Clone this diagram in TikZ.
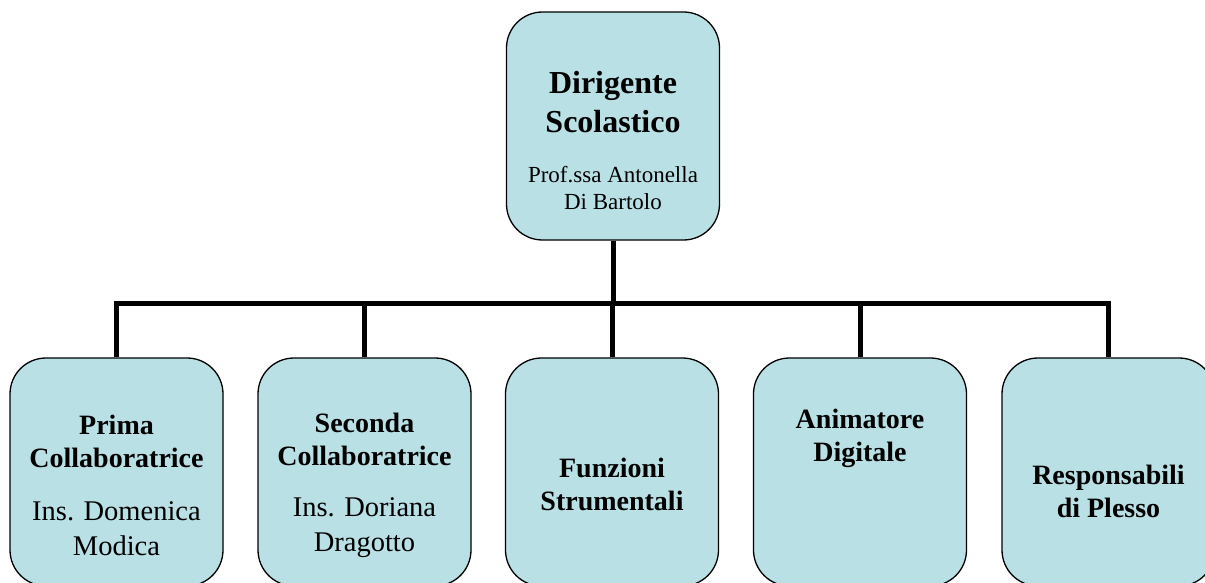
\documentclass[tikz,border=0pt]{standalone}
\usepackage{fontspec}
\setmainfont{Liberation Serif}
\usetikzlibrary{backgrounds}
\definecolor{boxfill}{RGB}{185,224,228}
\begin{document}
\begin{tikzpicture}[x=1pt,y=-1pt,
  orgbox/.style={draw=black, line width=1.3pt, fill=boxfill, rounded corners=36pt, minimum width=213pt, minimum height=228pt, inner sep=0pt},
  link/.style={line width=5pt},
  toptitle/.style={font=\fontsize{32}{39}\selectfont\bfseries, align=center, inner sep=0pt},
  topname/.style={font=\fontsize{23}{27}\selectfont, align=center, inner sep=0pt},
  ttl/.style={font=\fontsize{28}{33}\selectfont\bfseries, align=center, inner sep=0pt},
  nm/.style={font=\fontsize{28.5}{35}\selectfont, align=center, inner sep=0pt}]
\useasboundingbox (0,0) rectangle (1205,583);
\clip (0,0) rectangle (1205,583);
% boxes
\path (613,126) node[orgbox] (top) {};
\path (116.5,472) node[orgbox] (b1) {};
\path (364.5,472) node[orgbox] (b2) {};
\path (612,472) node[orgbox] (b3) {};
\path (860,472) node[orgbox] (b4) {};
\path (1108.5,472) node[orgbox] (b5) {};
% junction on the bar
\coordinate (j) at (613,303);
% connectors
\begin{scope}[on background layer]
\draw[link] (top.south) -- (j);
\draw[link] (b1.north) |- (j) -| (b5.north);
\draw[link] (b2.north) -- (b2.north |- j);
\draw[link] (b3.north) -- (b3.north |- j);
\draw[link] (b4.north) -- (b4.north |- j);
\end{scope}
% texts
\node[toptitle] (t0) at (613,102) {Dirigente\\Scolastico};
\node[topname] (n0) at (613,188) {Prof.ssa Antonella\\Di Bartolo};
\node[ttl] (t1) at (116.5,441) {Prima\\Collaboratrice};
\node[nm] (n1) at (116.5,529) {Ins. Domenica\\Modica};
\node[ttl] (t2) at (364.5,439) {Seconda\\Collaboratrice};
\node[nm] (n2) at (364.5,528) {Ins. Doriana\\Dragotto};
\node[ttl] (t3) at (612,484) {Funzioni\\Strumentali};
\node[ttl] (t4) at (860,438) {Animatore\\Digitale};
\node[ttl] (t5) at (1108.5,491) {Responsabili\\di Plesso};
\end{tikzpicture}
\end{document}
